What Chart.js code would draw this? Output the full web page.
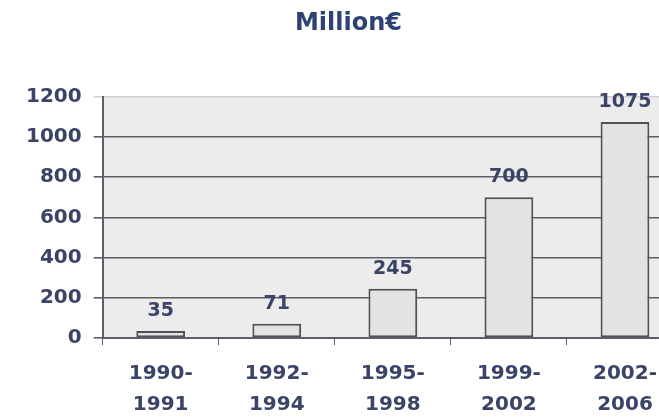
<!DOCTYPE html>
<html>
<head>
<meta charset="utf-8">
<script src="https://cdn.jsdelivr.net/npm/chart.js@4/dist/chart.umd.min.js"></script>
<style>
  html, body { margin: 0; padding: 0; background: #fff; overflow: hidden; }
  #wrap { width: 700px; height: 419px; }
</style>
</head>
<body>
<div id="wrap"><canvas id="chart" width="700" height="419"></canvas></div>
<script>
// periods and funding (million euro)
let periods = [['1990-', '1991'], ['1992-', '1994'], ['1995-', '1998'], ['1999-', '2002'], ['2002-', '2006']];
let amounts = [35, 71, 245, 700, 1075];
let yTicks = [0, 200, 400, 600, 800, 1000, 1200];

let textColor = '#3b4466';
let lineColor = '#5e5e68';

// grey plot background
let plotBg = {
    id: 'plotBg',
    beforeDraw(chart) {
        let a = chart.chartArea;
        let ctx = chart.ctx;
        ctx.save();
        ctx.fillStyle = '#ececec';
        ctx.fillRect(a.left, a.top, a.right - a.left, a.bottom - a.top);
        ctx.restore();
    }
};

// value labels above each bar
let barValues = {
    id: 'barValues',
    afterDatasetsDraw(chart) {
        let ctx = chart.ctx;
        let meta = chart.getDatasetMeta(0);
        ctx.save();
        ctx.font = 'bold 19px "DejaVu Sans"';
        ctx.fillStyle = textColor;
        ctx.textAlign = 'center';
        ctx.textBaseline = 'alphabetic';
        meta.data.forEach((bar, i) => {
            ctx.fillText(String(amounts[i]), bar.x, bar.y - 15);
        });
        ctx.restore();
    }
};

Chart.defaults.font.family = '"DejaVu Sans"';

var ctx = document.getElementById('chart').getContext('2d');
var chart = new Chart(ctx, {
    type: 'bar',
    data: {
        labels: periods,
        datasets: [{
            data: amounts,
            backgroundColor: '#e3e3e3',
            borderColor: '#505058',
            borderWidth: 2,
            borderSkipped: false,
            barPercentage: 0.42,
            categoryPercentage: 1
        }]
    },
    options: {
        responsive: false,
        animation: false,
        devicePixelRatio: 1,
        layout: { padding: { left: 14, right: 17, top: 0, bottom: 0 } },
        plugins: {
            legend: { display: false },
            tooltip: { enabled: false },
            title: {
                display: true,
                text: 'Million€',
                color: '#2d4272',
                font: { size: 24, weight: 'bold' },
                padding: { top: 9, bottom: 59 }
            }
        },
        scales: {
            x: {
                afterFit(axis) { axis.height = 81; },
                grid: {
                    offset: true,
                    drawOnChartArea: false,
                    drawTicks: true,
                    tickLength: 7,
                    color: lineColor
                },
                border: { color: lineColor, width: 2 },
                ticks: {
                    color: textColor,
                    padding: 13,
                    font: { size: 20, weight: 'bold', lineHeight: 1.55 }
                }
            },
            y: {
                min: 0,
                max: 1200,
                afterBuildTicks(axis) {
                    axis.ticks = yTicks.map(v => ({ value: v }));
                },
                grid: {
                    color: ctx => ctx.tick && ctx.tick.value === 1200 ? '#d0d0d4' : lineColor,
                    lineWidth: 1.6,
                    tickLength: 9
                },
                border: { color: lineColor, width: 2 },
                ticks: {
                    color: textColor,
                    padding: 12,
                    font: { size: 20, weight: 'bold' },
                    callback: v => String(v)
                }
            }
        }
    },
    plugins: [plotBg, barValues]
});
</script>
</body>
</html>
